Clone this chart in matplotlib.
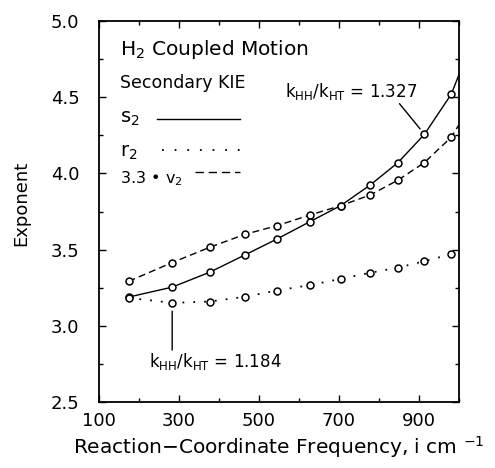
import matplotlib
matplotlib.use("Agg")
import matplotlib.pyplot as plt

# reaction-coordinate frequency (i cm^-1); last entry is where the curves leave the frame
freq = [174, 283, 377, 465, 545, 627, 704, 778, 848, 914, 981, 1000]
s2 = [3.19, 3.255, 3.353, 3.466, 3.57, 3.683, 3.788, 3.923, 4.071, 4.256, 4.518, 4.644]
r2 = [3.185, 3.152, 3.161, 3.192, 3.233, 3.268, 3.309, 3.349, 3.383, 3.425, 3.471]
v2 = [3.293, 3.416, 3.516, 3.601, 3.657, 3.727, 3.788, 3.858, 3.956, 4.071, 4.237, 4.317]

plt.rcParams['font.family'] = 'DejaVu Sans'
plt.rcParams['mathtext.fontset'] = 'dejavusans'

fig = plt.figure(figsize=(4.95, 4.68), dpi=100)
ax = fig.add_axes([0.2, 0.14, 0.727, 0.816])

mk = dict(marker='o', markersize=5, markerfacecolor='white', markeredgecolor='black',
          markeredgewidth=1.1, color='black')
n = len(r2)
ax.plot(freq, s2, linestyle='-', lw=1.0, markevery=list(range(n)), **mk)
ax.plot(freq[:n], r2, linestyle=(0, (1, 5)), lw=1.3, **mk)
ax.plot(freq, v2, linestyle=(0, (5, 3)), lw=1.0, markevery=list(range(n)), **mk)

ax.set_xlim(100, 1000)
ax.set_ylim(2.5, 5.0)
ax.set_xticks([100, 300, 500, 700, 900])
ax.set_xticks([200, 400, 600, 800, 1000], minor=True)
ax.set_yticks([2.5, 3.0, 3.5, 4.0, 4.5, 5.0])
ax.set_yticks([2.75, 3.25, 3.75, 4.25, 4.75], minor=True)
ax.set_yticklabels(['2.5', '3.0', '3.5', '4.0', '4.5', '5.0'])
ax.tick_params(which='both', direction='in', top=True, right=True, labelsize=13)
ax.tick_params(which='major', length=5, width=1)
ax.tick_params(which='minor', length=3, width=1)
ax.tick_params(axis='y', pad=14)
ax.tick_params(axis='x', pad=7)
for sp in ax.spines.values():
    sp.set_linewidth(1.3)

ax.set_xlabel(r'Reaction$-$Coordinate Frequency, i cm $^{-1}$', fontsize=14.5, labelpad=3)
ax.set_ylabel('Exponent', fontsize=13)
ax.yaxis.set_label_coords(-0.19, 0.522)

# title block and legend keys
ax.text(0.058, 0.91, r'H$_2$ Coupled Motion', transform=ax.transAxes, fontsize=14.5, va='baseline')
ax.text(0.058, 0.823, 'Secondary KIE', transform=ax.transAxes, fontsize=12.5, va='baseline')
ax.text(0.058, 0.732, r's$_2$', transform=ax.transAxes, fontsize=14, va='baseline')
ax.text(0.058, 0.643, r'r$_2$', transform=ax.transAxes, fontsize=14, va='baseline')
ax.text(0.058, 0.575, r'3.3 • v$_2$', transform=ax.transAxes, fontsize=11.5, va='baseline')
ax.plot([0.162, 0.393], [0.742, 0.742], transform=ax.transAxes, color='black', lw=1.0)
ax.plot([0.175, 0.393], [0.661, 0.661], transform=ax.transAxes, color='black', lw=1.3,
        linestyle=(0, (1, 6)))
ax.plot([0.267, 0.393], [0.603, 0.603], transform=ax.transAxes, color='black', lw=1.0,
        linestyle=(0, (6, 3.5)))

# annotations
ax.annotate('', xy=(freq[9], s2[9]), xytext=(-18, 22), textcoords='offset points',
            arrowprops=dict(arrowstyle='-', shrinkA=0, shrinkB=5, lw=1.0, color='black'))
ax.text(565, 4.533, r'k$_\mathrm{HH}$/k$_\mathrm{HT}$ = 1.327', fontsize=12, va='center')
ax.annotate('', xy=(freq[1], r2[1]), xytext=(0, -34), textcoords='offset points',
            arrowprops=dict(arrowstyle='-', shrinkA=0, shrinkB=6, lw=1.0, color='black'))
ax.text(225, 2.768, r'k$_\mathrm{HH}$/k$_\mathrm{HT}$ = 1.184', fontsize=12, va='center')

fig.savefig('out.png', dpi=100)
